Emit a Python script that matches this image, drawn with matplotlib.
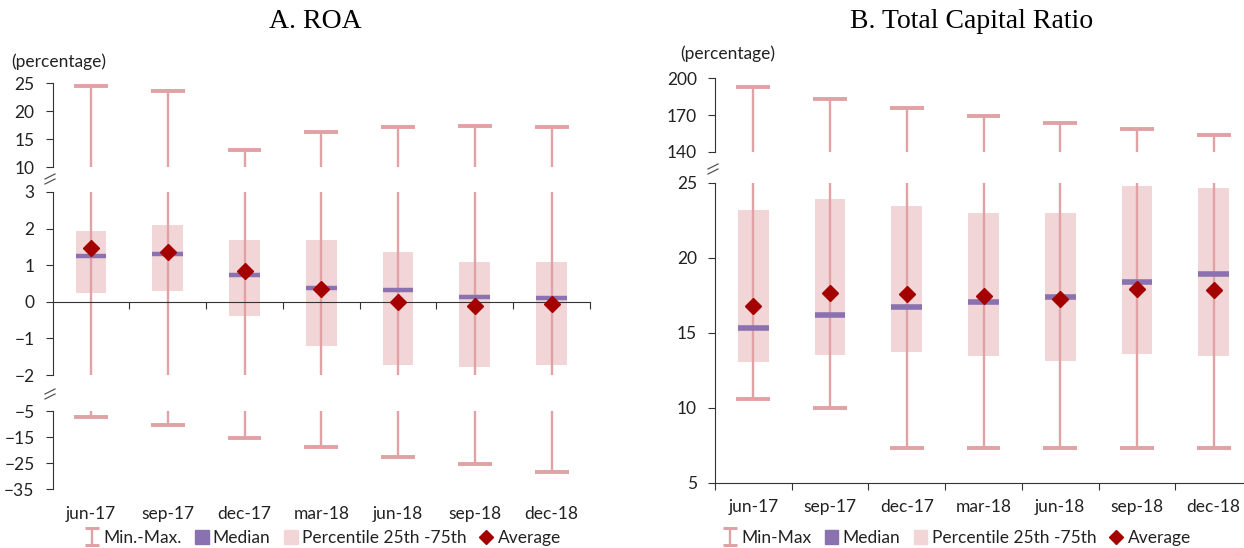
import matplotlib
matplotlib.use('Agg')
import matplotlib.pyplot as plt
from matplotlib.lines import Line2D
from matplotlib.patches import Patch
import numpy as np

periods = ['jun-17', 'sep-17', 'dec-17', 'mar-18', 'jun-18', 'sep-18', 'dec-18']

# A. ROA
roa_max = [24.4, 23.6, 13.0, 16.2, 17.2, 17.4, 17.2]
roa_min = [-7.3, -10.4, -15.3, -18.8, -22.8, -25.4, -28.5]
roa_p75 = [1.93, 2.09, 1.68, 1.68, 1.37, 1.09, 1.09]
roa_p25 = [0.25, 0.30, -0.39, -1.20, -1.73, -1.79, -1.73]
roa_median = [1.25, 1.31, 0.73, 0.38, 0.32, 0.14, 0.11]
roa_avg = [1.48, 1.35, 0.85, 0.36, -0.01, -0.12, -0.07]

# B. Total Capital Ratio
tcr_max = [192.6, 183.1, 175.7, 169.2, 163.7, 158.6, 154.0]
tcr_min = [10.6, 10.0, 7.3, 7.3, 7.3, 7.3, 7.3]
tcr_p75 = [23.2, 23.9, 23.44, 22.96, 22.96, 24.78, 24.67]
tcr_p25 = [13.02, 13.51, 13.73, 13.44, 13.11, 13.6, 13.44]
tcr_median = [15.31, 16.16, 16.69, 17.04, 17.36, 18.4, 18.93]
tcr_avg = [16.78, 17.62, 17.56, 17.47, 17.22, 17.91, 17.87]

whisk_c = '#E0A2A4'
box_c = '#F2D5D7'
med_c = '#8A72B0'
avg_c = '#A50000'
axis_c = '#333333'

plt.rcParams['font.family'] = ['Lato', 'DejaVu Sans']
plt.rcParams['font.size'] = 12.5

W, H = 1244, 548
fig = plt.figure(figsize=(W / 100, H / 100), dpi=100)


def px_axes(x0, x1, y0, y1):
    # pixel box (top-left origin) -> axes
    return fig.add_axes([x0 / W, 1 - y1 / H, (x1 - x0) / W, (y1 - y0) / H])


def draw_marks(ax, mx, mn, p75, p25, med, avg, medlw):
    x = np.arange(len(periods))
    ax.bar(x, np.array(p75) - np.array(p25), bottom=p25, width=0.4,
           color=box_c, zorder=1)
    ax.vlines(x, mn, mx, color=whisk_c, lw=1.7, zorder=2)
    ax.hlines(mx, x - 0.22, x + 0.22, color=whisk_c, lw=2.8, zorder=2)
    ax.hlines(mn, x - 0.22, x + 0.22, color=whisk_c, lw=2.8, zorder=2)
    ax.hlines(med, x - 0.2, x + 0.2, color=med_c, lw=medlw, zorder=3)
    ax.plot(x, avg, 'D', color=avg_c, ms=8, ls='none', zorder=4)
    ax.set_xlim(-0.5, len(periods) - 0.5)


def style(ax, ylim, yticks):
    for s in ['top', 'right', 'bottom']:
        ax.spines[s].set_visible(False)
    ax.spines['left'].set_color(axis_c)
    ax.set_ylim(*ylim)
    ax.set_yticks(yticks)
    ax.tick_params(axis='y', length=5, width=0.8, color=axis_c, pad=8,
                   labelcolor='#222222')
    ax.set_xticks([])
    ax.patch.set_alpha(0)


def brk(xp, yp):
    for dy in (-2.5, 2.5):
        fig.add_artist(Line2D([(xp - 5) / W, (xp + 5) / W],
                              [1 - (yp + dy + 2.5) / H, 1 - (yp + dy - 2.5) / H],
                              color='#555555', lw=0.9))


bounds = np.arange(len(periods) + 1) - 0.5

# ---- A. ROA ----
la_top = px_axes(52.6, 590, 83, 167)
la_mid = px_axes(52.6, 590, 192, 375)
la_bot = px_axes(52.6, 590, 411, 489)
for ax in (la_top, la_mid, la_bot):
    draw_marks(ax, roa_max, roa_min, roa_p75, roa_p25, roa_median, roa_avg, 3.2)
style(la_top, (10, 25), [10, 15, 20, 25])
style(la_mid, (-2, 3), [-2, -1, 0, 1, 2, 3])
style(la_bot, (-35, -5), [-5, -15, -25, -35])

la_mid.spines['bottom'].set_visible(True)
la_mid.spines['bottom'].set_position(('data', 0))
la_mid.spines['bottom'].set_color(axis_c)
la_mid.set_xticks(bounds[1:])
la_mid.set_xticklabels([])
la_mid.tick_params(axis='x', length=5, width=0.8, color=axis_c, direction='out')

la_bot.set_xticks(np.arange(len(periods)))
la_bot.set_xticklabels(periods)
la_bot.tick_params(axis='x', length=0, pad=12, labelcolor='#222222')

fig.text(11 / W, 1 - 62 / H, '(percentage)', ha='left', va='center', color='#222222')
fig.text(315 / W, 1 - 22 / H, 'A. ROA', ha='center', va='center', fontsize=20,
         family=['Liberation Serif', 'DejaVu Serif'])
brk(50, 179)
brk(50, 394)

# ---- B. Total Capital Ratio ----
rb_top = px_axes(715, 1252, 78.3, 151.7)
rb_mid = px_axes(715, 1252, 182.7, 482.7)
for ax in (rb_top, rb_mid):
    draw_marks(ax, tcr_max, tcr_min, tcr_p75, tcr_p25, tcr_median, tcr_avg, 4.0)
style(rb_top, (140, 200), [140, 170, 200])
style(rb_mid, (5, 25), [5, 10, 15, 20, 25])

rb_mid.spines['bottom'].set_visible(True)
rb_mid.spines['bottom'].set_color(axis_c)
rb_mid.set_xticks(np.arange(len(periods)))
rb_mid.set_xticklabels(periods)
rb_mid.set_xticks(bounds, minor=True)
rb_mid.tick_params(axis='x', which='major', length=0, pad=12, labelcolor='#222222')
rb_mid.tick_params(axis='x', which='minor', length=5, width=0.8, color=axis_c)

fig.text(680 / W, 1 - 54 / H, '(percentage)', ha='left', va='center', color='#222222')
fig.text(972 / W, 1 - 22 / H, 'B. Total Capital Ratio', ha='center', va='center',
         fontsize=20, family=['Liberation Serif', 'DejaVu Serif'])
brk(713, 169)


# ---- legends ----
def legend_handles():
    eb = la_top.errorbar([np.nan], [np.nan], yerr=[1], fmt='none', ecolor=whisk_c,
                         elinewidth=1.7, capsize=5, capthick=2.2)
    return [eb,
            Patch(color=med_c),
            Patch(color=box_c),
            Line2D([], [], marker='D', color=avg_c, ls='none', ms=7)]


leg_kw = dict(loc='center', ncol=4, frameon=False, handlelength=0.8,
              handleheight=0.9, handletextpad=0.25, columnspacing=0.75,
              fontsize=12.5, labelcolor='#222222')
fig.legend(legend_handles(), ['Min.-Max.', 'Median', 'Percentile 25th -75th', 'Average'],
           bbox_to_anchor=(323 / W, 1 - 538 / H), **leg_kw)
fig.legend(legend_handles(), ['Min-Max', 'Median', 'Percentile 25th -75th', 'Average'],
           bbox_to_anchor=(957 / W, 1 - 538 / H), **leg_kw)

fig.savefig('out.png', dpi=100)
